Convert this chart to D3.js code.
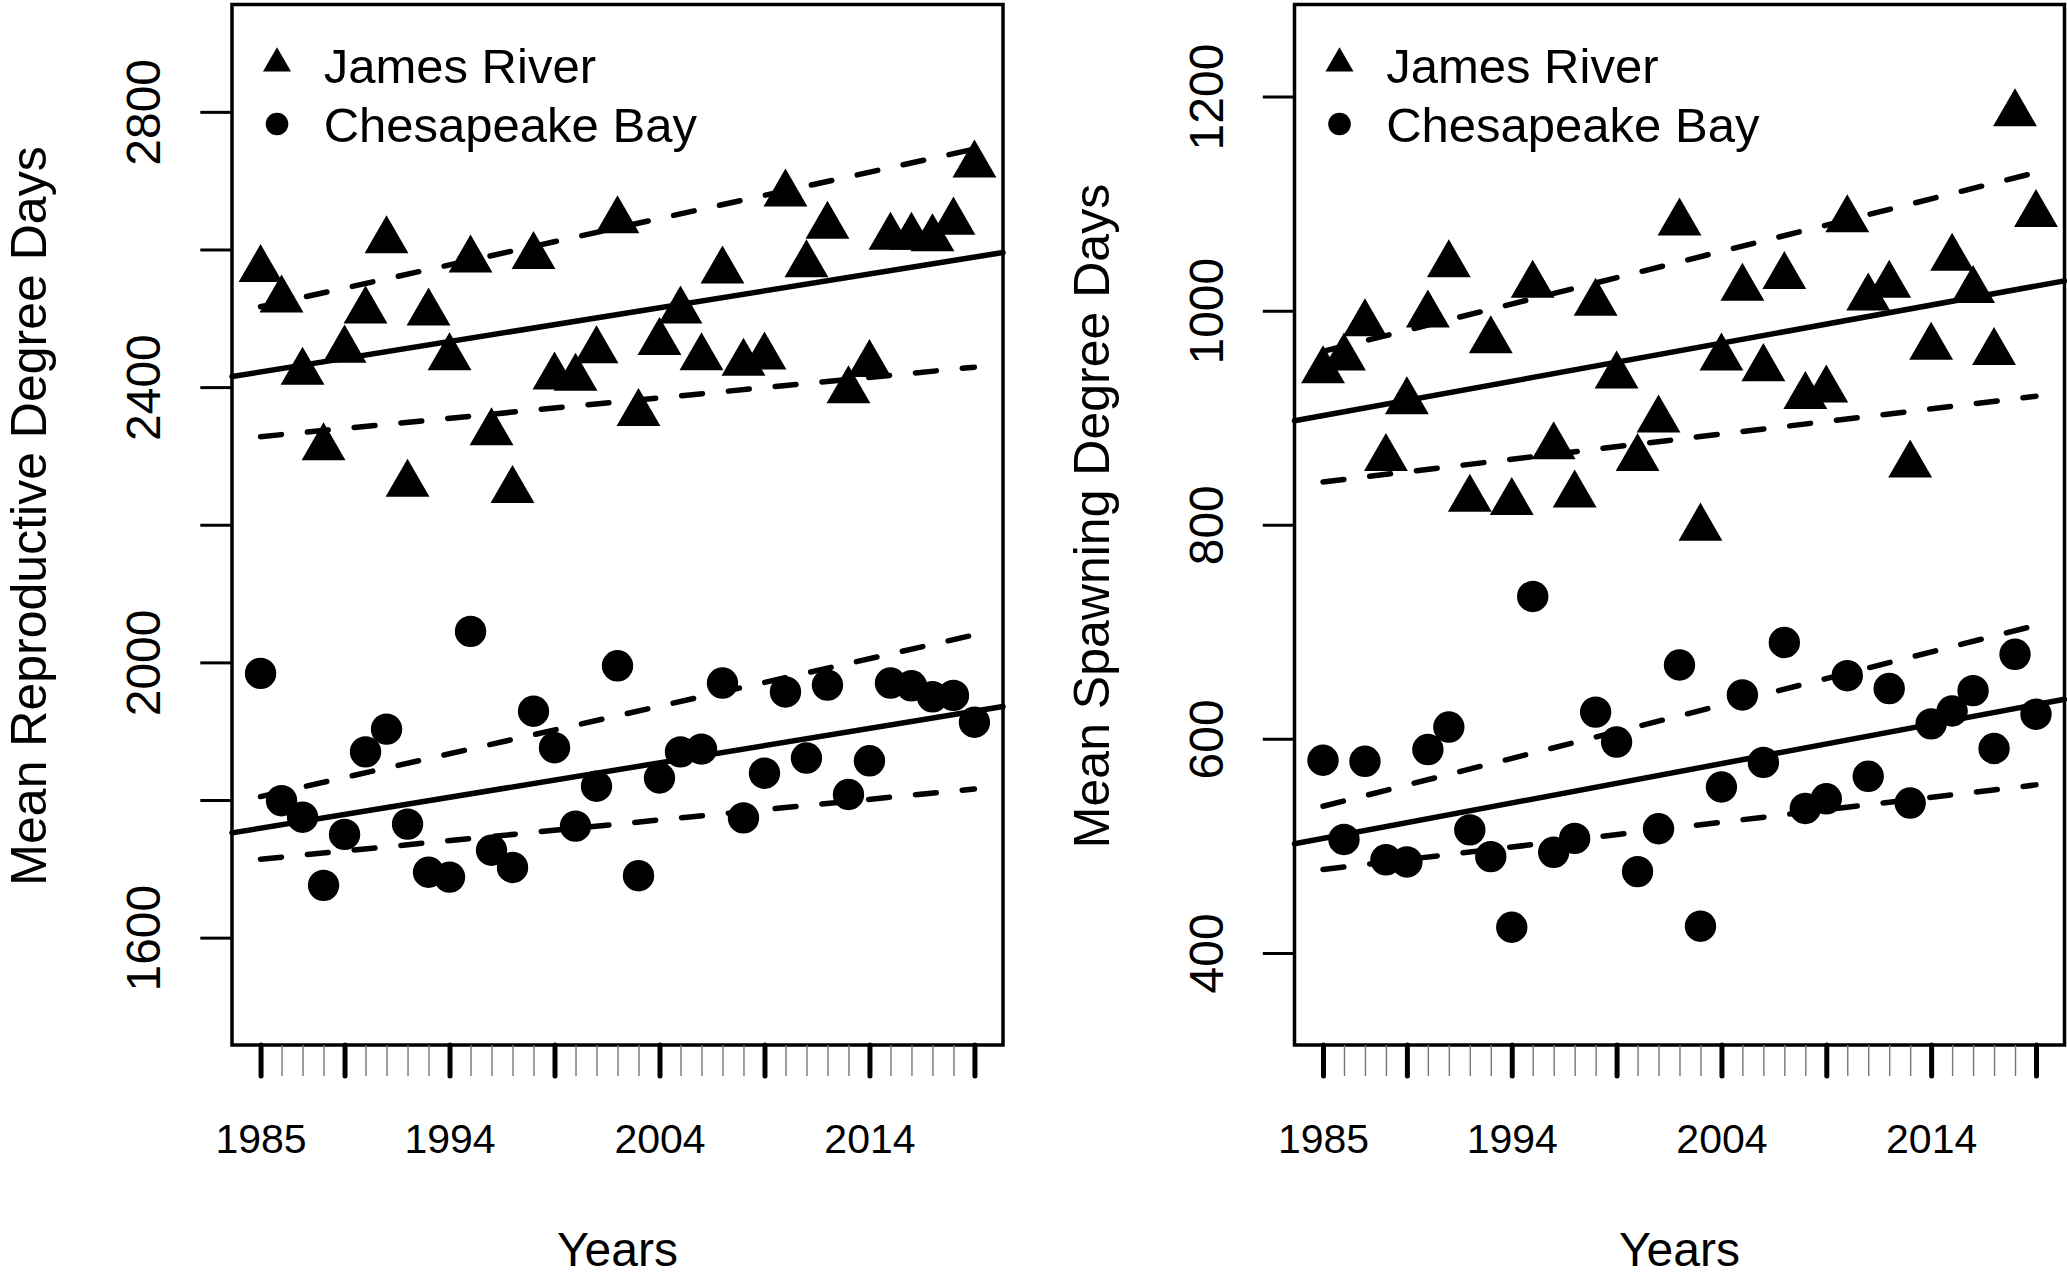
<!DOCTYPE html>
<html>
<head>
<meta charset="utf-8">
<script src="https://cdn.jsdelivr.net/npm/d3@7"></script>
<style>
body { margin: 0; background: #fff; }
text { font-family: "Liberation Sans", Arial, sans-serif; fill: #000; }
</style>
</head>
<body>
<svg id="svg" width="2067" height="1277"></svg>
<script>
// data
var years = [1985, 1986, 1987, 1988, 1989, 1990, 1991, 1992, 1993, 1994,
    1995, 1996, 1997, 1998, 1999, 2000, 2001, 2002, 2003, 2004,
    2005, 2006, 2007, 2008, 2009, 2010, 2011, 2012, 2013, 2014,
    2015, 2016, 2017, 2018, 2019]
var seriesNames = ["James River", "Chesapeake Bay"]

var reproJames = [2571, 2527, 2422, 2312, 2454, 2511, 2613, 2259, 2508, 2443,
    2585, 2334, 2250, 2590, 2415, 2413, 2453, 2642, 2362, 2465,
    2511, 2443, 2569, 2435, 2444, 2681, 2578, 2634, 2395, 2433,
    2618, 2618, 2616, 2640, 2723]
var reproBay = [1984, 1799, 1775, 1676, 1750, 1870, 1903, 1765, 1695, 1688,
    2045, 1727, 1702, 1929, 1876, 1762, 1820, 1995, 1690, 1832,
    1870, 1874, 1970, 1774, 1839, 1957, 1861, 1967, 1808, 1857,
    1970, 1966, 1950, 1952, 1913]
var spawnJames = [944, 956, 988, 862, 915, 996, 1043, 824, 972, 821,
    1024, 873, 828, 1007, 939, 862, 898, 1082, 797, 956,
    1021, 946, 1032, 920, 926, 1085, 1012, 1024, 856, 966,
    1049, 1019, 961, 1184, 1090]
var spawnBay = [580, 506, 579, 487, 485, 590, 611, 515, 490, 424,
    733, 494, 507, 625, 597, 476, 516, 669, 425, 555,
    641, 578, 690, 535, 544, 659, 565, 647, 540, 614,
    626, 645, 591, 679, 623]

// trend lines: value at first and last year
var fitYears = [1985, 2019]
var reproJamesFit = [2422, 2589], reproJamesUpper = [2517, 2746], reproJamesLower = [2328, 2429]
var reproBayFit = [1759, 1929], reproBayUpper = [1805, 2040], reproBayLower = [1714, 1816]
var spawnJamesFit = [902, 1023], spawnJamesUpper = [962, 1129], spawnJamesLower = [840, 920]
var spawnBayFit = [507, 632], spawnBayUpper = [537, 706], spawnBayLower = [478, 557]

// axes
var yearLim = [1985, 2019]
var majorYears = [1985, 1989, 1994, 1999, 2004, 2009, 2014, 2019]
var yearLabels = [1985, 1994, 2004, 2014]
var reproLim = [1500, 2900]
var reproTicks = [1600, 1800, 2000, 2200, 2400, 2600, 2800]
var reproLabels = [1600, 2000, 2400, 2800]
var spawnLim = [350, 1250]
var spawnTicks = [400, 600, 800, 1000, 1200]
var spawnLabels = [400, 600, 800, 1000, 1200]

var svg = d3.select("#svg")

drawPanel({
    left: 232, right: 1003,
    ylim: reproLim, ticks: reproTicks, labels: reproLabels,
    title: "Mean Reproductive Degree Days",
    james: reproJames, bay: reproBay,
    lines: [reproJamesFit, reproJamesUpper, reproJamesLower, reproBayFit, reproBayUpper, reproBayLower]
})
drawPanel({
    left: 1294.5, right: 2064.5,
    ylim: spawnLim, ticks: spawnTicks, labels: spawnLabels,
    title: "Mean Spawning Degree Days",
    james: spawnJames, bay: spawnBay,
    lines: [spawnJamesFit, spawnJamesUpper, spawnJamesLower, spawnBayFit, spawnBayUpper, spawnBayLower]
})

function expand(lim) {
    var d = (lim[1] - lim[0]) * 0.04
    return [lim[0] - d, lim[1] + d]
}

function drawPanel(p) {
    var top = 4.5,
        bottom = 1045
    var x = d3.scaleLinear().domain(expand(yearLim)).range([p.left, p.right])
    var y = d3.scaleLinear().domain(expand(p.ylim)).range([bottom, top])
    var g = svg.append("g")

    // points
    var tri = d3.symbol().type(d3.symbolTriangle).size(834)
    var dot = d3.symbol().type(d3.symbolCircle).size(774)
    g.selectAll(".tri")
        .data(p.james)
        .enter().append("path")
        .attr("class", "tri")
        .attr("d", tri)
        .attr("fill", "#000")
        .attr("transform", function (d, i) {
            return translate(x(years[i]), y(d))
        })
    g.selectAll(".dot")
        .data(p.bay)
        .enter().append("path")
        .attr("class", "dot")
        .attr("d", dot)
        .attr("fill", "#000")
        .attr("transform", function (d, i) {
            return translate(x(years[i]), y(d))
        })

    // trend lines, solid one runs across the whole box
    var line = d3.line()
        .x(function (d) { return x(d[0]) })
        .y(function (d) { return y(d[1]) })
    p.lines.forEach(function (v, k) {
        var pts
        if (k % 3 === 0) {
            var slope = (v[1] - v[0]) / (fitYears[1] - fitYears[0])
            pts = x.domain().map(function (yr) {
                return [yr, v[0] + slope * (yr - fitYears[0])]
            })
        } else {
            pts = [[fitYears[0], v[0]], [fitYears[1], v[1]]]
        }
        g.append("path")
            .attr("d", line(pts))
            .attr("fill", "none")
            .attr("stroke", "#000")
            .attr("stroke-width", 5.5)
            .attr("stroke-linecap", "round")
            .attr("stroke-dasharray", k % 3 === 0 ? null : "21,26")
    })

    // box
    g.append("rect")
        .attr("x", p.left)
        .attr("y", top)
        .attr("width", p.right - p.left)
        .attr("height", bottom - top)
        .attr("fill", "none")
        .attr("stroke", "#000")
        .attr("stroke-width", 3.5)

    // x axis: minor ticks every year, heavy ones on top
    var xm = g.append("g")
        .attr("transform", translate(0, bottom))
        .call(d3.axisBottom(x).tickValues(years).tickSize(31).tickFormat(""))
    xm.select(".domain").remove()
    xm.selectAll("line").attr("stroke", "#777").attr("stroke-width", 1.4)

    var xa = g.append("g")
        .attr("transform", translate(0, bottom))
        .call(d3.axisBottom(x).tickValues(majorYears).tickSize(31).tickFormat(function (d) {
            return yearLabels.indexOf(d) >= 0 ? String(d) : ""
        }))
    xa.select(".domain").remove()
    xa.selectAll("line")
        .attr("stroke", "#000")
        .attr("stroke-width", 5)
        .attr("stroke-linecap", "round")
    xa.selectAll("text")
        .attr("y", 108)
        .attr("dy", 0)
        .style("font-size", "41px")

    // y axis
    var ya = g.append("g")
        .attr("transform", translate(p.left, 0))
        .call(d3.axisLeft(y).tickValues(p.ticks).tickSize(31.7).tickFormat(function (d) {
            return p.labels.indexOf(d) >= 0 ? String(d) : ""
        }))
    ya.select(".domain").remove()
    ya.selectAll("line").attr("stroke", "#000").attr("stroke-width", 3)
    ya.selectAll("text")
        .attr("transform", "rotate(-90)")
        .attr("x", 0)
        .attr("y", -71.6)
        .attr("dy", 0)
        .attr("text-anchor", "middle")
        .style("font-size", "48px")

    // titles
    g.append("text")
        .attr("transform", translate(p.left - 186, 516) + " rotate(-90)")
        .attr("text-anchor", "middle")
        .style("font-size", "50px")
        .text(p.title)
    g.append("text")
        .attr("x", (p.left + p.right) / 2)
        .attr("y", 1266)
        .attr("text-anchor", "middle")
        .style("font-size", "48px")
        .text("Years")

    // legend
    var lg = g.append("g").attr("transform", translate(p.left, 0))
    lg.append("path")
        .attr("d", d3.symbol().type(d3.symbolTriangle).size(341))
        .attr("transform", translate(45, 63.5))
    lg.append("path")
        .attr("d", d3.symbol().type(d3.symbolCircle).size(401))
        .attr("transform", translate(45, 124))
    lg.selectAll(".legendText")
        .data(seriesNames)
        .enter().append("text")
        .attr("class", "legendText")
        .attr("x", 91.7)
        .attr("y", function (d, i) { return i === 0 ? 82.7 : 142.3 })
        .style("font-size", "49px")
        .text(function (d) { return d })
}

function translate(x, y) {
    return "translate(" + x + "," + y + ")";
}
</script>
</body>
</html>
